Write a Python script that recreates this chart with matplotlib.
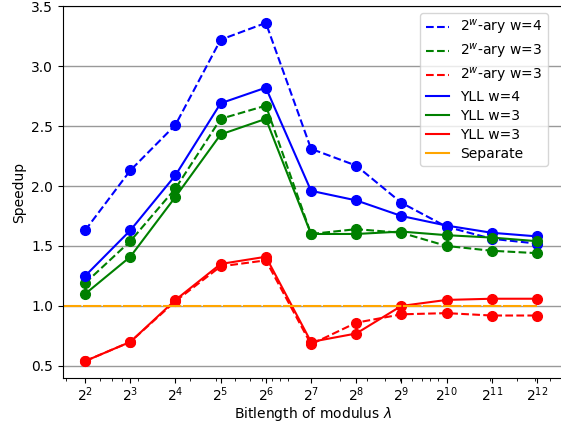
import matplotlib
matplotlib.use("Agg")
import matplotlib.pyplot as plt
import numpy as np

# bitlength exponents (lambda = 2^k)
exps = [2, 3, 4, 5, 6, 7, 8, 9, 10, 11, 12]
lambdas = [2 ** k for k in exps]

ary_w4 = [1.63, 2.13, 2.51, 3.22, 3.36, 2.31, 2.17, 1.86, 1.66, 1.56, 1.52]
ary_w3 = [1.19, 1.54, 1.98, 2.56, 2.67, 1.60, 1.64, 1.61, 1.50, 1.46, 1.44]
ary_w3_red = [0.54, 0.70, 1.04, 1.33, 1.38, 0.68, 0.86, 0.93, 0.94, 0.92, 0.92]
yll_w4 = [1.25, 1.63, 2.09, 2.69, 2.82, 1.96, 1.88, 1.75, 1.67, 1.61, 1.58]
yll_w3 = [1.10, 1.41, 1.91, 2.43, 2.56, 1.60, 1.60, 1.62, 1.59, 1.57, 1.54]
yll_w3_red = [0.54, 0.70, 1.05, 1.35, 1.41, 0.70, 0.77, 1.00, 1.05, 1.06, 1.06]
separate = 1.0

fig = plt.figure(figsize=(5.61, 4.23), dpi=100)
ax = fig.add_axes([63 / 561, 45 / 423, (562 - 63) / 561, 372 / 423])

ax.set_xscale('log')
xlo = lambdas[0] / 2 ** 0.49
xhi = lambdas[-1] * 2 ** 0.555

ms = 7
ax.plot(lambdas, ary_w4, 'b--o', markersize=ms, label=r'$2^w$-ary w=4')
ax.plot(lambdas, ary_w3, 'g--o', markersize=ms, label=r'$2^w$-ary w=3')
ax.plot(lambdas, ary_w3_red, 'r--o', markersize=ms, label=r'$2^w$-ary w=3')
ax.plot(lambdas, yll_w4, 'b-o', markersize=ms, label='YLL w=4')
ax.plot(lambdas, yll_w3, 'g-o', markersize=ms, label='YLL w=3')
ax.plot(lambdas, yll_w3_red, 'r-o', markersize=ms, label='YLL w=3')
ax.plot([xlo, lambdas[-1]], [separate, separate], color='orange',
        linewidth=1.5, dashes=(8.8, 0.8), label='Separate')

ax.set_xlim(xlo, xhi)
ax.set_xticks(lambdas)
ax.set_xticklabels([r'$2^{%d}$' % k for k in exps])
ax.tick_params(axis='x', which='major', pad=1.5)

ax.yaxis.grid(True, color='0.6', linewidth=1)
ax.set_axisbelow(True)

ax.set_xlabel(r'Bitlength of modulus $\lambda$', labelpad=1)
ax.set_ylabel('Speedup')

leg = ax.legend(loc='upper right', bbox_to_anchor=((555 - 63) / 499, 1.0),
                labelspacing=0.35, handlelength=1.7)
for ln in leg.get_lines():
    ln.set_marker('')
leg.get_lines()[-1].set_linestyle('-')

fig.savefig('out.png', dpi=100)
